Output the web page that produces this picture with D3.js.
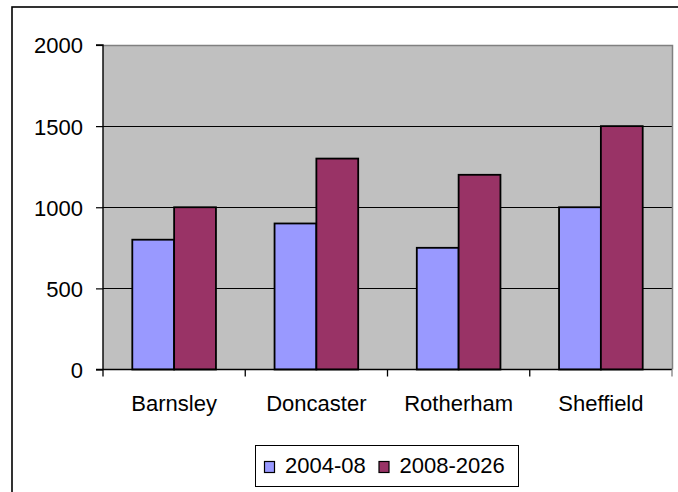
<!DOCTYPE html>
<html>
<head>
<meta charset="utf-8">
<script src="https://cdn.jsdelivr.net/npm/d3@7"></script>
<style>
  html, body { margin: 0; padding: 0; background: #fff; }
  svg { display: block; }
  text { font-family: "Liberation Sans", Arial, sans-serif; fill: #000; }
</style>
</head>
<body>
<svg id="chart" width="678" height="492"></svg>
<script>
const categories = ["Barnsley", "Doncaster", "Rotherham", "Sheffield"];
const seriesNames = ["2004-08", "2008-2026"];
const series2004 = [800, 900, 750, 1000];
const series2008 = [1000, 1300, 1200, 1500];
const yTicks = [0, 500, 1000, 1500, 2000];
const colors = ["#9999FF", "#993366"];

const svg = d3.select("#chart");
const fontSize = 22;

// outer chart border
svg.append("rect")
  .attr("x", 12).attr("y", 7)
  .attr("width", 700).attr("height", 520)
  .attr("fill", "#fff")
  .attr("stroke", "#000").attr("stroke-width", 1.6);

const plot = { left: 103, top: 45, right: 672, bottom: 369.5 };

const x = d3.scaleBand().domain(categories).range([plot.left, plot.right]).paddingInner(0).paddingOuter(0);
const y = d3.scaleLinear().domain([0, 2000]).range([plot.bottom, plot.top]);

// plot area background
svg.append("rect")
  .attr("x", plot.left).attr("y", plot.top)
  .attr("width", plot.right - plot.left).attr("height", plot.bottom - plot.top)
  .attr("fill", "#C0C0C0");

// gridlines
svg.append("g").selectAll("line")
  .data(yTicks.filter(d => d > 0 && d < 2000))
  .join("line")
  .attr("x1", plot.left).attr("x2", plot.right)
  .attr("y1", d => Math.round(y(d)) + 0.5).attr("y2", d => Math.round(y(d)) + 0.5)
  .attr("stroke", "#000").attr("stroke-width", 1);

// plot area border (top and right, grey)
svg.append("path")
  .attr("d", `M${plot.left},${plot.top + 0.5}H${plot.right + 0.5}V${plot.bottom}`)
  .attr("fill", "none").attr("stroke", "#808080").attr("stroke-width", 1.5);

// bars
const groupPad = 29.3;
const barW = (x.bandwidth() - 2 * groupPad) / 2;
const data = categories.map((c, i) => [series2004[i], series2008[i]]);
const groups = svg.append("g").selectAll("g")
  .data(categories).join("g");
groups.each(function(c, i) {
  d3.select(this).selectAll("rect")
    .data(data[i])
    .join("rect")
    .attr("x", (d, j) => x(c) + groupPad + j * barW)
    .attr("y", d => y(d))
    .attr("width", barW)
    .attr("height", d => y(0) - y(d))
    .attr("fill", (d, j) => colors[j])
    .attr("stroke", "#000").attr("stroke-width", 1.8);
});

// y axis
const yAxis = d3.axisLeft(y).tickValues(yTicks).tickSize(7).tickPadding(13).tickFormat(d3.format("d"));
const gy = svg.append("g").attr("transform", `translate(${plot.left},0)`).call(yAxis);
gy.select(".domain").attr("stroke", "#000").attr("stroke-width", 1.4).attr("d", `M-7,${plot.top}H0V${plot.bottom}`);
gy.selectAll(".tick line").attr("stroke", "#000").attr("stroke-width", 1.2);
gy.selectAll(".tick text").attr("font-size", fontSize).attr("font-family", "Liberation Sans, Arial, sans-serif").attr("dy", "0.36em").attr("fill", "#000");

// x axis
const gx = svg.append("g").attr("transform", `translate(0,${plot.bottom})`);
gx.append("line").attr("x1", plot.left - 7).attr("x2", plot.right).attr("y1", 0).attr("y2", 0)
  .attr("stroke", "#000").attr("stroke-width", 1.4);
const boundaries = categories.map(c => x(c)).concat([x(categories[categories.length - 1]) + x.bandwidth()]);
gx.selectAll("line.tk").data(boundaries).join("line").attr("class", "tk")
  .attr("x1", d => d).attr("x2", d => d).attr("y1", 0).attr("y2", 7)
  .attr("stroke", d => d === plot.right ? "#808080" : "#000").attr("stroke-width", 1.3);
gx.selectAll("text").data(categories).join("text")
  .attr("x", d => x(d) + x.bandwidth() / 2)
  .attr("y", 411 - plot.bottom)
  .attr("text-anchor", "middle")
  .attr("font-size", fontSize)
  .text(d => d);

// legend
const legend = svg.append("g");
legend.append("rect")
  .attr("x", 255.5).attr("y", 445.5).attr("width", 263).attr("height", 41)
  .attr("fill", "#fff").attr("stroke", "#000").attr("stroke-width", 1);
const legX = [264, 378.5];
seriesNames.forEach((n, i) => {
  legend.append("rect")
    .attr("x", legX[i] + 0.5).attr("y", 461.5).attr("width", 10).attr("height", 11)
    .attr("fill", colors[i]).attr("stroke", "#000").attr("stroke-width", 1.2);
  legend.append("text")
    .attr("x", legX[i] + 21).attr("y", 473)
    .attr("font-size", fontSize)
    .text(n);
});
</script>
</body>
</html>
